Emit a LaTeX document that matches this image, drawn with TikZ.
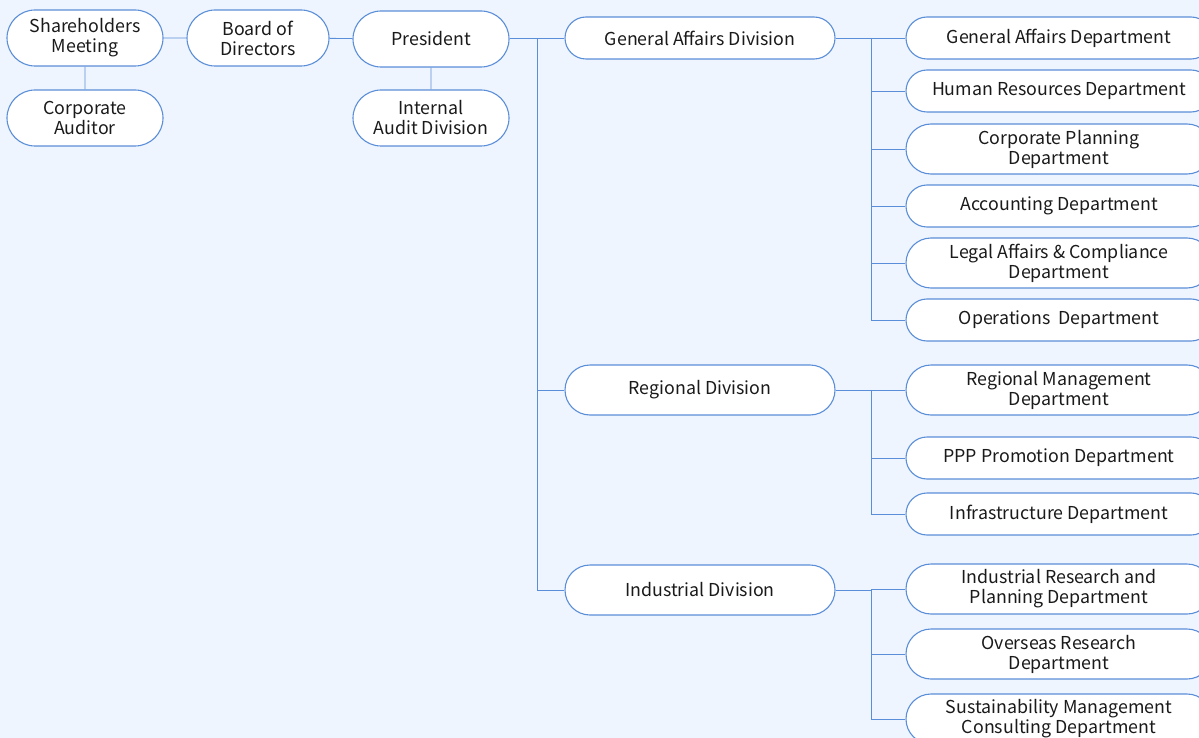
\documentclass[tikz,border=0pt]{standalone}
\usepackage{fontspec}
\setmainfont{Noto Sans CJK JP}
\usepackage{tikz}
\usetikzlibrary{positioning, shapes.misc}
\definecolor{bgblue}{HTML}{EEF5FE}
\definecolor{lineblue}{HTML}{5B8ED8}
\definecolor{inkgray}{HTML}{1A1A1A}

\begin{document}
\begin{tikzpicture}[x=1pt, y=-1pt,
    unit/.style={rounded rectangle, draw=lineblue, line width=1.1pt, fill=white,
        align=center, inner sep=0pt, text=inkgray, font=\fontsize{17.8}{20}\selectfont},
    top/.style={unit, minimum width=156pt, minimum height=56pt},
    div/.style={unit, minimum width=270pt},
    dept/.style={unit, minimum width=306pt},
    link/.style={draw=lineblue, line width=0.9pt}]
    % Background and frame
    \fill[bgblue] (0,0) rectangle (1199,738);
    \useasboundingbox (0,0) rectangle (1199,738);
    \clip (0,0) rectangle (1199,738);

    % Top management
    \node[top] (share) at (85,38) {Shareholders\\Meeting};
    \node[top] (audit) at (85,118) {Corporate\\Auditor};
    \node[top, minimum width=142pt] (board) at (258,38) {Board of\\Directors};
    \node[top] (pres) at (431,39) {President};
    \node[top] (inaud) at (431,118) {Internal\\Audit Division};

    % Divisions
    \node[div, minimum height=42pt] (gad) at (700,38) {General Affairs Division};
    \node[div, minimum height=50pt] (rgd) at (700,390) {Regional Division};
    \node[div, minimum height=50pt] (ind) at (700,590) {Industrial Division};

    % Departments of the General Affairs Division
    \node[dept, minimum height=42pt] (gadep) at (1059,38) {General Affairs Department};
    \node[dept, minimum height=42pt] (hrdep) at (1059,91) {Human Resources Department};
    \node[dept, minimum height=50pt] (cpdep) at (1059,149) {Corporate Planning\\Department};
    \node[dept, minimum height=42pt] (acdep) at (1059,206) {Accounting Department};
    \node[dept, minimum height=50pt] (lgdep) at (1059,263) {Legal Affairs \& Compliance\\Department};
    \node[dept, minimum height=42pt] (opdep) at (1059,320) {Operations~~Department};

    % Departments of the Regional Division
    \node[dept, minimum height=50pt] (rmdep) at (1059,390) {Regional Management\\Department};
    \node[dept, minimum height=42pt] (ppdep) at (1059,458) {PPP Promotion Department};
    \node[dept, minimum height=42pt] (ifdep) at (1059,514) {Infrastructure Department};

    % Departments of the Industrial Division
    \node[dept, minimum height=50pt] (irdep) at (1059,589) {Industrial Research and\\Planning Department};
    \node[dept, minimum height=50pt] (ovdep) at (1059,654) {Overseas Research\\Department};
    \node[dept, minimum height=50pt] (sudep) at (1059,719) {Sustainability Management\\Consulting Department};

    % Top links
    \draw[link] (share) -- (board);
    \draw[link] (board) -- (pres);
    \draw[link] (share) -- (audit);
    \draw[link] (pres) -- (inaud);

    % President to divisions
    \coordinate (ptrunk) at (537,38);
    \draw[link] (pres.east |- ptrunk) -- (ptrunk) |- (ind.west);
    \foreach \d in {gad, rgd}
        \draw[link] (ptrunk |- \d.west) -- (\d.west);

    % Divisions to departments
    \coordinate (gtrunk) at (871,38);
    \draw[link] (gad.east) -- (gtrunk) |- (opdep.west);
    \foreach \d in {gadep, hrdep, cpdep, acdep, lgdep}
        \draw[link] (gtrunk |- \d.west) -- (\d.west);

    \coordinate (rtrunk) at (871,390);
    \draw[link] (rgd.east) -- (rtrunk) |- (ifdep.west);
    \foreach \d in {rmdep, ppdep}
        \draw[link] (rtrunk |- \d.west) -- (\d.west);

    \coordinate (itrunk) at (871,590);
    \draw[link] (ind.east) -- (itrunk) |- (sudep.west);
    \foreach \d in {irdep, ovdep}
        \draw[link] (itrunk |- \d.west) -- (\d.west);
\end{tikzpicture}
\end{document}
